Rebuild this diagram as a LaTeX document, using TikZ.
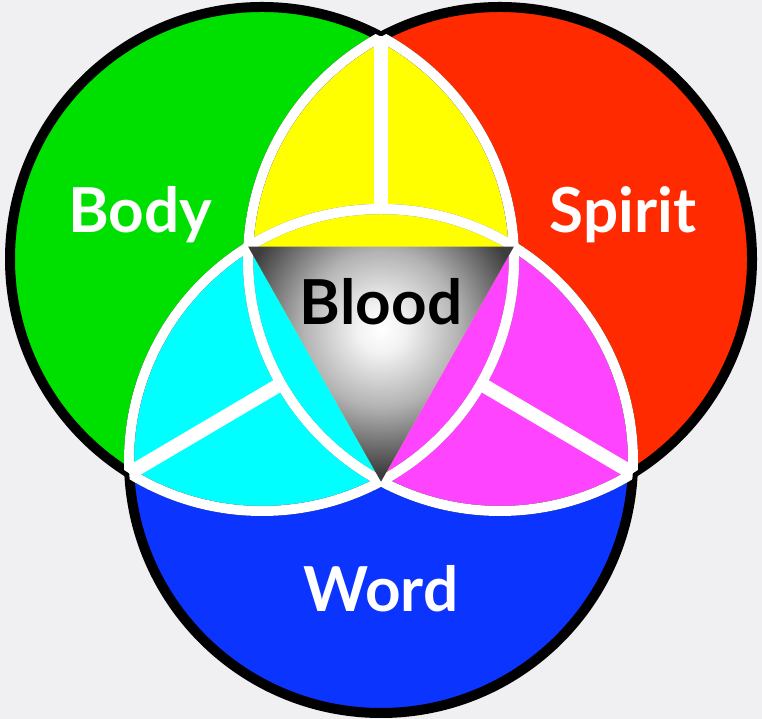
\documentclass[tikz,border=0pt]{standalone}
\usepackage{fontspec}
\setmainfont{Lato}
\definecolor{bgpaper}{RGB}{240,240,243}
\definecolor{bodygreen}{RGB}{0,224,0}
\definecolor{spiritred}{RGB}{255,42,0}
\definecolor{wordblue}{RGB}{12,52,255}
\definecolor{mixyellow}{RGB}{255,255,0}
\definecolor{mixcyan}{RGB}{0,255,255}
\definecolor{mixmagenta}{RGB}{255,68,255}
\newcommand{\circrad}{252pt}
\pgfdeclareradialshading{bloodglow}{\pgfpoint{0bp}{0bp}}{color(0bp)=(white); color(2bp)=(white!95!black); color(6.5bp)=(white!70!black); color(12bp)=(black!76); color(50bp)=(black!76)}
\begin{document}
\begin{tikzpicture}
    [x=1pt,y=1pt,
    rim/.style={black,line width=10pt},
    seam/.style={white,line width=10pt},
    divider/.style={white,line width=14pt},
    circlelabel/.style={font=\fontsize{62}{62}\selectfont\bfseries,text=white,anchor=base}]
    %background
    \useasboundingbox[fill=bgpaper] (0,0) rectangle (762,719);
    %centres and crossing points
    \coordinate (g) at (262,460);
    \coordinate (r) at (500,460);
    \coordinate (b) at (381,258);
    \coordinate (grtop) at (381,682.7);
    \coordinate (grlow) at (381,237.3);
    \coordinate (gbout) at (129.2,245.7);
    \coordinate (gbin) at (513.8,472.3);
    \coordinate (rbout) at (632.8,245.7);
    \coordinate (rbin) at (248.2,472.3);
    \coordinate (btop) at (381,510);
    \coordinate (cyanend) at (281.1,335.2);
    \coordinate (magentaend) at (480.9,335.2);
    %circles
    \fill[bodygreen] (g) circle (\circrad);
    \fill[spiritred] (r) circle (\circrad);
    \fill[wordblue] (b) circle (\circrad);
    %overlaps
    \begin{scope}
    \clip (g) circle (\circrad);
    \fill[mixyellow] (r) circle (\circrad);
    \end{scope}
    \begin{scope}
    \clip (g) circle (\circrad);
    \clip (49,825)--(580,-115)--(-100,-115)--(-100,825)--cycle;
    \fill[mixcyan] (b) circle (\circrad);
    \end{scope}
    \begin{scope}
    \clip (r) circle (\circrad);
    \clip (713,825)--(182,-115)--(862,-115)--(862,825)--cycle;
    \fill[mixmagenta] (b) circle (\circrad);
    \end{scope}
    %outlines
    \draw[rim] (g) circle (\circrad);
    \draw[rim] (r) circle (\circrad);
    \draw[rim] (b) circle (\circrad);
    %white seams inside the other circles
    \begin{scope}
    \clip (r) circle (\circrad);
    \draw[seam] (g) circle (\circrad);
    \draw[seam] (b) circle (\circrad);
    \end{scope}
    \begin{scope}
    \clip (g) circle (\circrad);
    \draw[seam] (r) circle (\circrad);
    \draw[seam] (b) circle (\circrad);
    \end{scope}
    \begin{scope}
    \clip (b) circle (\circrad);
    \draw[seam] (g) circle (\circrad);
    \draw[seam] (r) circle (\circrad);
    \end{scope}
    %dividers
    \draw[divider] (grtop)--(btop);
    \draw[divider] (gbout)--(cyanend);
    \draw[divider] (rbout)--(magentaend);
    %centre triangle
    \begin{scope}
    \clip (rbin)--(gbin)--(grlow)--cycle;
    \shade[shading=bloodglow] (381,390) circle (300pt);
    \end{scope}
    %labels
    \node[circlelabel] (body) at (140,486) {Body};
    \node[circlelabel] (spirit) at (623,486) {Spirit};
    \node[circlelabel] (word) at (381,107) {Word};
    \node[circlelabel,text=black] (blood) at (381,394) {Blood};
\end{tikzpicture}
\end{document}
